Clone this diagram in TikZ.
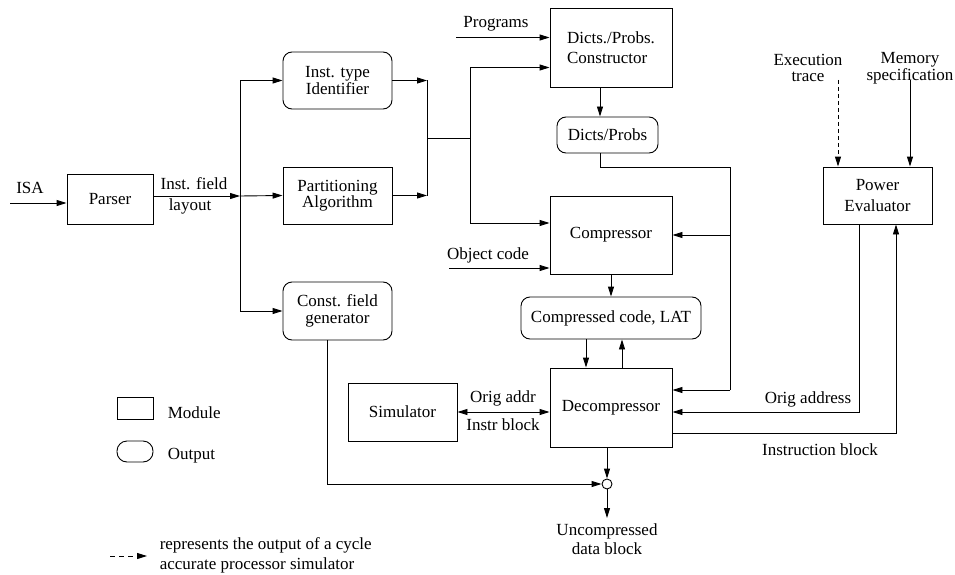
\documentclass[tikz,border=0pt]{standalone}
\usepackage{fontspec}
\setmainfont{Liberation Serif}
\usepackage{tikz}
\usetikzlibrary{arrows.meta}
\tikzstyle{every node}=[font=\fontsize{17}{16.5}\selectfont,align=center]
\tikzstyle{module}=[draw,line width=0.9pt,inner sep=0pt]
\tikzstyle{output}=[draw,line width=0.9pt,inner sep=0pt,rounded corners=9pt]
\tikzstyle{arr}=[-{Triangle[length=10pt,width=6pt]}]
\tikzstyle{arrs}=[{Triangle[length=10pt,width=6pt]}-{Triangle[length=10pt,width=6pt]}]

\begin{document}
\begin{tikzpicture}[x=1pt,y=-1pt,line width=0.9pt]
\useasboundingbox (0,0) rectangle (955,575);
% modules and outputs
\node[module,minimum width=86pt,minimum height=50pt] (parser) at (110,199) {Parser};
\node[output,minimum width=109pt,minimum height=57pt] (insttype) at (337.5,80.5) {Inst. type\\Identifier};
\node[module,minimum width=109pt,minimum height=57pt] (partition) at (337.5,195.5) {Partitioning\\Algorithm};
\node[output,minimum width=109pt,minimum height=58pt] (constgen) at (337.5,311) {Const. field\\generator};
\node[module,minimum width=122pt,minimum height=79pt,align=left] (constructor) at (611,47.5) {Dicts./Probs.\\[4pt]Constructor};
\node[output,minimum width=101pt,minimum height=36pt] (dicts) at (607.5,135) {Dicts/Probs};
\node[module,minimum width=122pt,minimum height=78pt] (compressor) at (611,235) {Compressor};
\node[output,minimum width=180pt,minimum height=42pt] (compcode) at (611,318) {Compressed code, LAT};
\node[module,minimum width=122pt,minimum height=79pt] (decomp) at (611,407.5) {Decompressor};
\node[module,minimum width=109pt,minimum height=58pt] (simulator) at (402.5,412) {Simulator};
\node[module,minimum width=109pt,minimum height=57pt] (power) at (877.5,195.5) {Power\\[4pt]Evaluator};
\node[draw,circle,minimum size=10pt,inner sep=0pt] (join) at (607,484) {};

% inputs
\coordinate (isa) at (10,203);
\node (isalabel) at (30,188) {ISA};
\draw[arr] (isa) -- (isa -| parser.west);
\coordinate (bus) at (240,196);
\draw[arr] (bus -| parser.east) -- (bus);
\node (fieldlabel) at (194,184) {Inst. field};
\node (layoutlabel) at (190,206) {layout};
\draw (240,81) -- (240,311);
\draw[arr] (bus) |- (insttype.west);
\draw[arr] (bus) -- (partition.west);
\draw[arr] (bus) |- (constgen.west);

% merge to constructor and compressor
\coordinate (merge) at (427,138);
\coordinate (feed) at (470,138);
\draw[arr] (insttype.east) -- (insttype.east -| merge);
\draw[arr] (partition.east) -- (partition.east -| merge);
\draw (insttype.east -| merge) -- (partition.east -| merge);
\draw (merge) -- (feed);
\draw[arr] (feed) |- ([yshift=-20pt]constructor.west);
\draw[arr] (feed) |- ([yshift=12pt]compressor.west);
\coordinate (prog) at (456,37.5);
\node (proglabel) at (496,24) {Programs};
\draw[arr] (prog) -- (prog -| constructor.west);
\coordinate (obj) at (449,268);
\node (objlabel) at (488,255) {Object code};
\draw[arr] (obj) -- (obj -| compressor.west);

% dictionaries
\draw[arr] ([xshift=-11pt]constructor.south) -- ([xshift=-7.5pt]dicts.north);
\coordinate (rtop) at (730,167);
\coordinate (rbot) at (730,390);
\draw ([xshift=-7.5pt]dicts.south) |- (rtop) -- (rbot);
\draw[arr] (rtop |- compressor.east) -- (compressor.east);
\draw[arr] (rbot) -- (rbot -| decomp.east);

% compressed code
\draw[arr] (compressor.south) -- (compcode.north);
\draw[arr] ([xshift=-25pt]compcode.south) -- ([xshift=-25pt]decomp.north);
\draw[arr] ([xshift=11pt]decomp.north) -- ([xshift=11pt]compcode.south);

% simulator
\draw[arrs] (simulator.east) -- (simulator.east -| decomp.west);
\node (origaddr) at (503,398) {Orig addr};
\node (instrblock) at (503,425) {Instr block};

% power evaluator
\node (tracelabel) at (808,68) {Execution\\trace};
\node (memlabel) at (910,68) {Memory\\specification};
\coordinate (trace) at (838,80);
\coordinate (mem) at (910,80);
\draw[arr,dash pattern=on 4pt off 3pt] (trace) -- (trace |- power.north);
\draw[arr] (mem) -- (mem |- power.north);
\draw[arr] ([xshift=-18.5pt]power.south) |- ([yshift=-4.5pt]decomp.east);
\node (origlabel) at (808,399) {Orig address};
\draw[arr] ([yshift=-25.5pt]decomp.east) -| ([xshift=18.5pt]power.south);
\node (instrlabel) at (820,450) {Instruction block};

% uncompressed data
\coordinate (out) at (607,518);
\draw[arr] (join |- decomp.south) -- (join.north);
\draw[arr] ([xshift=-10.5pt]constgen.south) |- (join.west);
\draw[arr] (join.south) -- (out);
\node[anchor=north] (outlabel) at (607,520) {Uncompressed\\[2pt]data block};

% legend
\node[module,minimum width=36pt,minimum height=22pt] (legmodule) at (135,408) {};
\node[anchor=west] (modlabel) at (164,413) {Module};
\node[output,rounded corners=10pt,minimum width=36pt,minimum height=21pt] (legoutput) at (135,451.5) {};
\node[anchor=west] (outlegend) at (164,456) {Output};
\coordinate (leg1) at (110,556);
\coordinate (leg2) at (147,556);
\draw[arr,dash pattern=on 5pt off 4pt] (leg1) -- (leg2);
\node[anchor=west,align=left,font=\fontsize{17}{20}\selectfont] (legtext) at (156,555) {represents the output of a cycle\\accurate processor simulator};
\end{tikzpicture}
\end{document}
